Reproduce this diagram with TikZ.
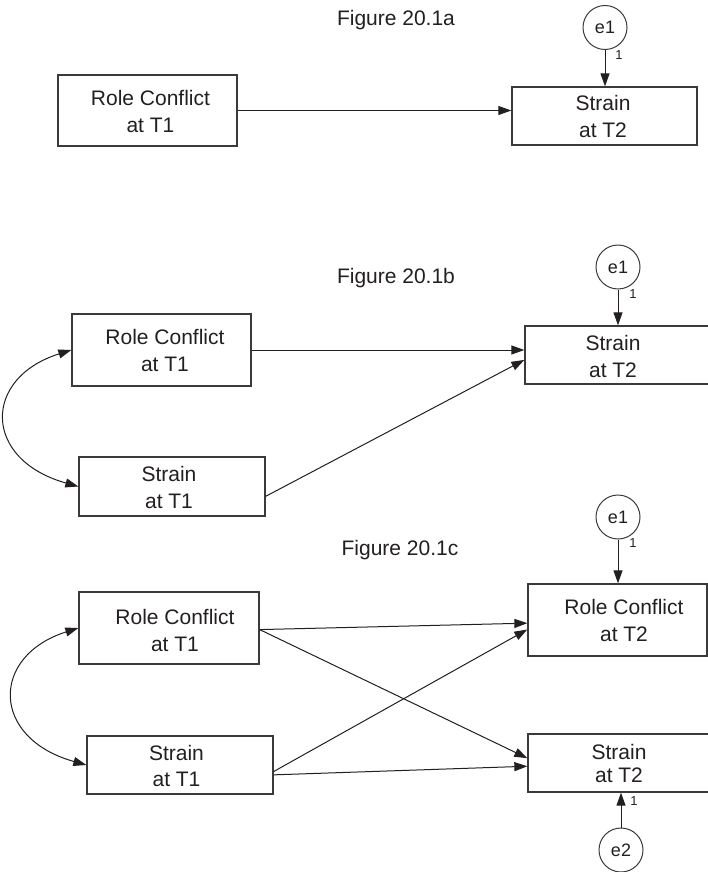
\documentclass[tikz,border=0pt]{standalone}
\usepackage{fontspec}
\setmainfont{Liberation Sans}
\usetikzlibrary{arrows.meta}
\definecolor{ink}{HTML}{231F20}
\definecolor{edgegray}{HTML}{3A3A3A}
\begin{document}
\begin{tikzpicture}[x=1pt,y=-1pt,
  box/.style={draw=edgegray, line width=1.3pt, inner sep=0pt},
  lbl/.style={align=center, inner sep=0pt, text=ink, font=\fontsize{21}{27}\selectfont},
  ttl/.style={inner sep=0pt, text=ink, font=\fontsize{21}{25}\selectfont},
  err/.style={draw=edgegray, circle, line width=1pt, minimum size=44pt, inner sep=0pt,
              text=ink, font=\fontsize{18}{20}\selectfont},
  one/.style={inner sep=0pt, text=ink, font=\fontsize{13}{15}\selectfont},
  arr/.style={draw=ink, line width=1pt, -{Triangle[length=13pt,width=9pt]}},
  dbl/.style={draw=ink, line width=1pt, {Triangle[length=13pt,width=9pt]}-{Triangle[length=13pt,width=9pt]}}
]
\useasboundingbox (0,0) rectangle (708,872);

% ---------- Figure 20.1a ----------
\node[ttl] (ta) at (396,20.5) {Figure 20.1a};
\node[box, minimum width=179pt, minimum height=71pt] (aRC) at (147.5,110.5) {};
\node[lbl] (aRCt) at (150.5,111.9) {Role Conflict\\at T1};
\node[box, minimum width=185pt, minimum height=58pt] (aST2) at (604.5,116) {};
\node[lbl] (aST2t) at (603,116.4) {Strain\\at T2};
\node[err] (ae1) at (605,27.5) {e1};
\node[one] (ae1w) at (619,55) {1};
\draw[arr] (aRC.east) -- (aRC.east -| aST2.west);
\draw[arr] (ae1) -- (ae1 |- aST2.north);

% ---------- Figure 20.1b ----------
\node[ttl] (tb) at (396,278.5) {Figure 20.1b};
\node[box, minimum width=179pt, minimum height=72pt] (bRC) at (161.5,350) {};
\node[lbl] (bRCt) at (165,350.4) {Role Conflict\\at T1};
\node[box, minimum width=186pt, minimum height=59pt] (bST1) at (172,486.5) {};
\node[lbl] (bST1t) at (169,487.9) {Strain\\at T1};
\node[box, minimum width=186pt, minimum height=58pt] (bST2) at (618,355) {};
\node[lbl] (bST2t) at (613,356.4) {Strain\\at T2};
\node[err] (be1) at (618,267) {e1};
\node[one] (be1w) at (633,294) {1};
\draw[arr] (bRC.east) -- (bRC.east -| bST2.west);
\draw[arr] (bST1.-6.4) -- (bST2.183.7);
\draw[arr] (be1) -- (be1 |- bST2.north);
\draw[dbl] (bRC.west) .. controls +(-89,28) and +(-96,-27) .. (bST1.west);

% ---------- Figure 20.1c ----------
\node[ttl] (tc) at (400,550.5) {Figure 20.1c};
\node[box, minimum width=180pt, minimum height=72pt] (cRC1) at (169,628) {};
\node[lbl] (cRC1t) at (175,630.9) {Role Conflict\\at T1};
\node[box, minimum width=186pt, minimum height=58pt] (cST1) at (180,765) {};
\node[lbl] (cST1t) at (176.5,766.4) {Strain\\[-1pt]at T1};
\node[box, minimum width=179pt, minimum height=72pt] (cRC2) at (617.5,620) {};
\node[lbl] (cRC2t) at (624,620.9) {Role Conflict\\at T2};
\node[box, minimum width=184pt, minimum height=58pt] (cST2) at (620,763) {};
\node[lbl] (cST2t) at (619,763.9) {Strain\\[-4pt]at T2};
\node[err] (ce1) at (618,517) {e1};
\node[one] (ce1w) at (633,543) {1};
\node[err] (ce2) at (621,850) {e2};
\node[one] (ce2w) at (634,801) {1};
\draw[arr] (cRC1.-1.3) -- (cRC2.182.6);
\draw[arr] (cRC1.-1.3) -- (cST2.177.5);
\draw[arr] (cST1.-4.3) -- (cRC2.186.4);
\draw[arr] (cST1.-6.7) -- (cST2.182.5);
\draw[arr] (ce1) -- (ce1 |- cRC2.north);
\draw[arr] (ce2) -- (ce2 |- cST2.south);
\draw[dbl] (cRC1.west) .. controls +(-88,28) and +(-96,-27) .. (cST1.west);
\end{tikzpicture}
\end{document}
